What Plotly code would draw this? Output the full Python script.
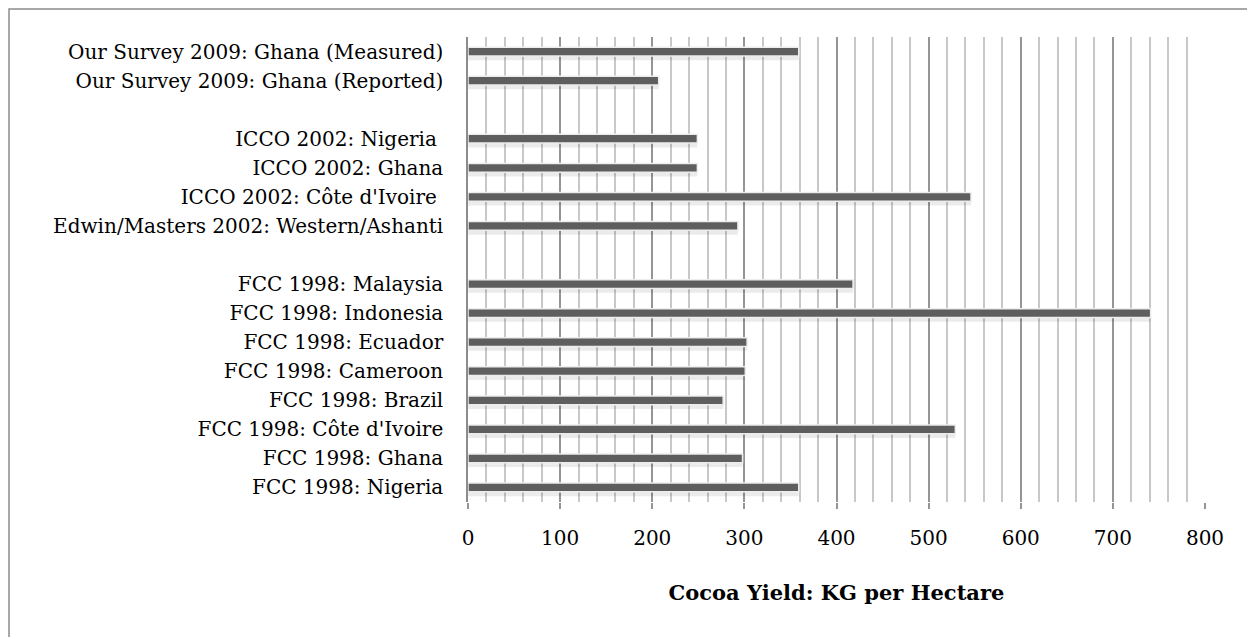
import plotly.graph_objects as go

categories = [
    "Our Survey 2009: Ghana (Measured)",
    "Our Survey 2009: Ghana (Reported)",
    " ",
    "ICCO 2002: Nigeria\u00a0",
    "ICCO 2002: Ghana",
    "ICCO 2002: Côte d'Ivoire\u00a0",
    "Edwin/Masters 2002: Western/Ashanti",
    "  ",
    "FCC 1998: Malaysia",
    "FCC 1998: Indonesia",
    "FCC 1998: Ecuador",
    "FCC 1998: Cameroon",
    "FCC 1998: Brazil",
    "FCC 1998: Côte d'Ivoire",
    "FCC 1998: Ghana",
    "FCC 1998: Nigeria",
]
yields = [359, 207, None, 249, 249, 546, 293, None, 418, 741, 303, 301, 277, 529, 298, 359]

tick_vals = [0, 100, 200, 300, 400, 500, 600, 700, 800]
axis_title = "Cocoa Yield: KG per Hectare"

label_font = "DejaVu Serif"

ML, MR, MT, MB = 460, 58, 29, 143
PW = 1255 - ML - MR
PH = 637 - MT - MB

fig = go.Figure()
# soft shadow under each bar
fig.add_trace(go.Bar(
    x=yields, y=categories, orientation="h",
    width=0.28, offset=0.02,
    marker=dict(color="rgba(0,0,0,0.08)", line=dict(width=0)),
    hoverinfo="skip", showlegend=False,
))
fig.add_trace(go.Bar(
    x=yields, y=categories, orientation="h",
    width=0.3, offset=-0.15,
    marker=dict(color="#5e5e5e", line=dict(color="#ededed", width=1.5)),
    showlegend=False,
))

fig.update_layout(
    width=1255, height=637,
    margin=dict(l=ML, r=MR, t=MT, b=MB),
    barmode="overlay",
    plot_bgcolor="white", paper_bgcolor="white",
    font=dict(family=label_font, size=16, color="black"),
    xaxis=dict(
        range=[0, 800], tickvals=tick_vals,
        showgrid=True, gridcolor="#959595", gridwidth=1.5,
        minor=dict(dtick=20, showgrid=True, gridcolor="#c8c8c8", gridwidth=1.5,
                   ticks=""),
        ticks="outside", ticklen=6, tickcolor="#959595", tickwidth=1.5,
        ticklabelstandoff=12,
        tickfont=dict(family=label_font, size=20),
        showline=False, zeroline=False,
        title=dict(text="<b>" + axis_title + "</b>",
                   font=dict(family=label_font, size=21), standoff=36),
    ),
    yaxis=dict(
        categoryorder="array", categoryarray=categories,
        autorange="reversed",
        showgrid=False, zeroline=False,
        showline=True, linecolor="#8c8c8c", linewidth=1.5,
        ticks="", ticklabelstandoff=19,
        tickfont=dict(family=label_font, size=20),
    ),
    shapes=[dict(
        type="rect", xref="paper", yref="paper",
        x0=(1 - ML) / PW, x1=1.2,
        y0=-0.6, y1=(PH + MT - 1) / PH,
        line=dict(color="#8c8c8c", width=1.5), fillcolor="rgba(0,0,0,0)",
        layer="below",
    )],
)

fig.write_html("out.html")
